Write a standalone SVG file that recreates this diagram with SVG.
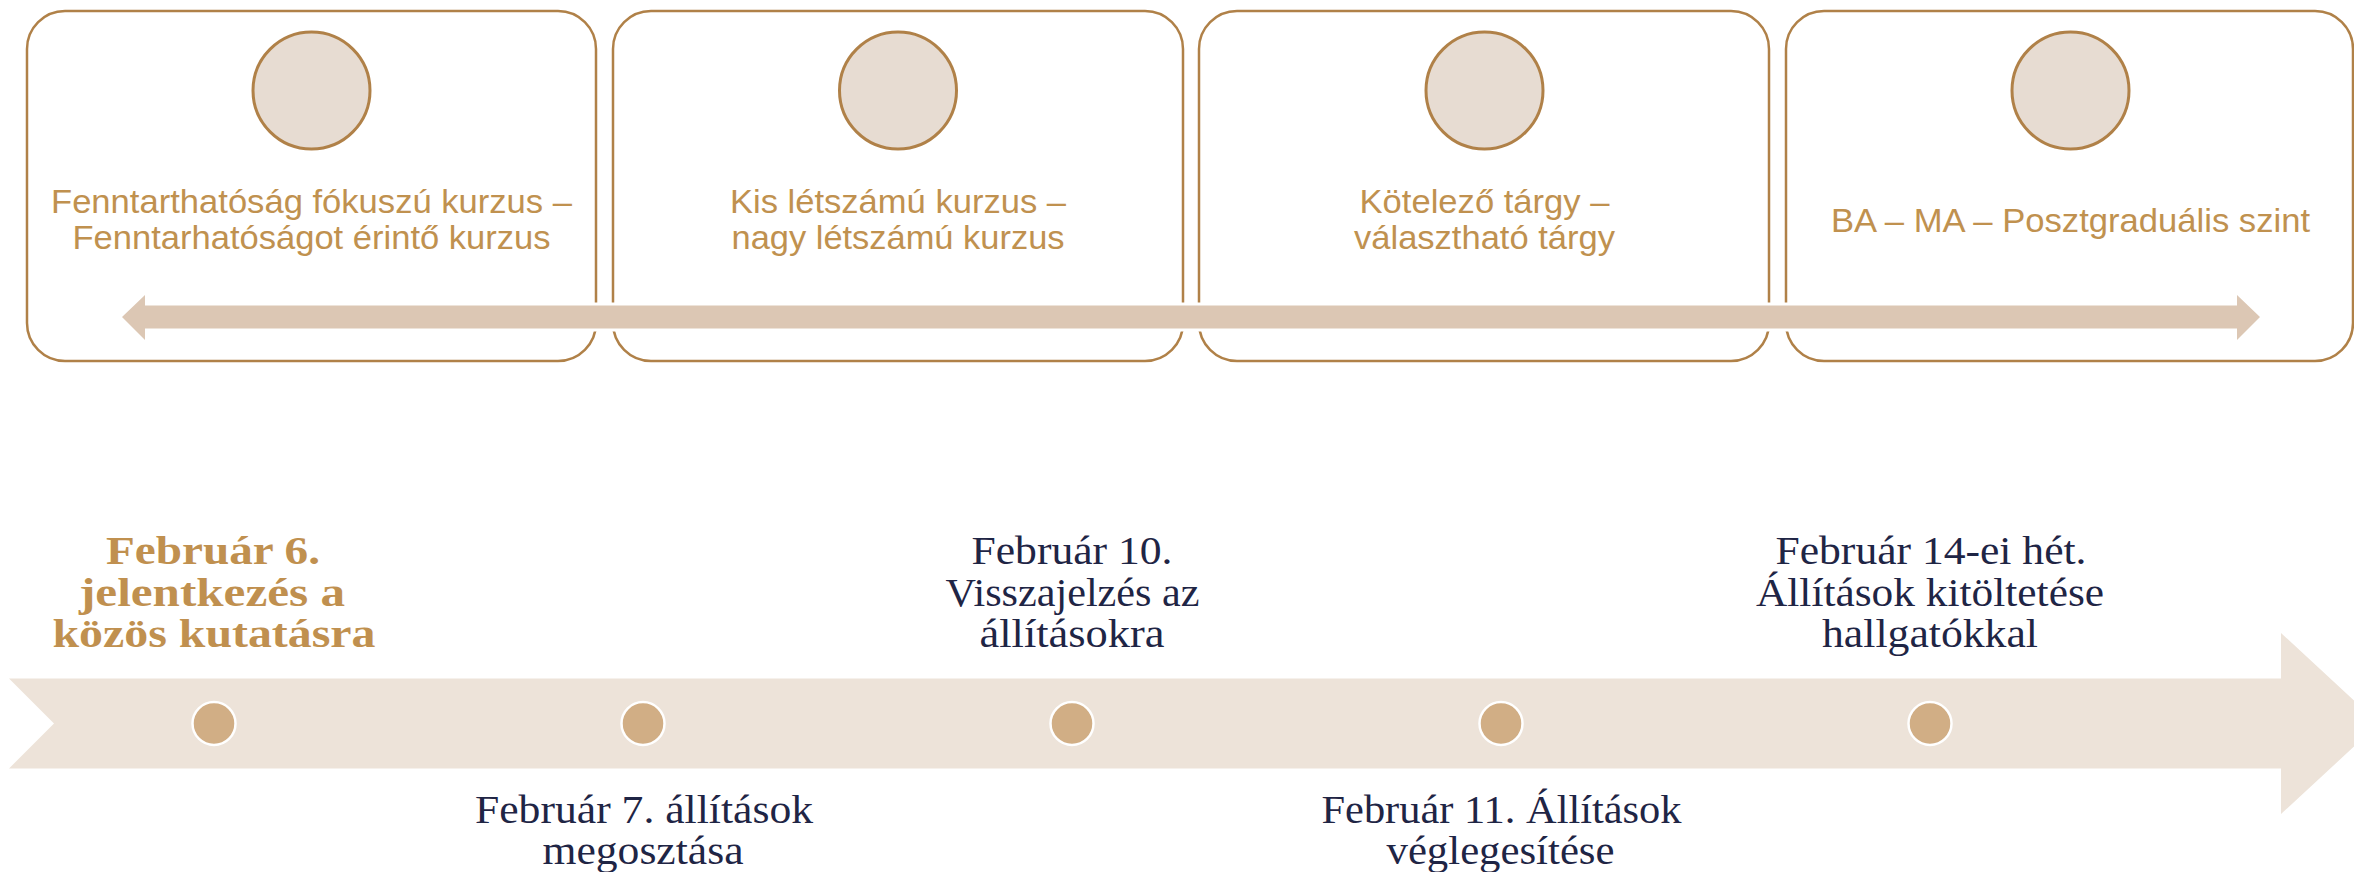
<svg xmlns="http://www.w3.org/2000/svg" width="2354" height="872" viewBox="0 0 2354 872">
<style>
.box{fill:#FFFFFF;stroke:#B08148;stroke-width:2.5}
.ic{fill:#E7DCD2;stroke:#B08148;stroke-width:3}
.bt{font-family:"Liberation Sans",Arial,sans-serif;font-size:33px;fill:#C0914F;text-anchor:middle}
.tl{font-family:"Liberation Serif","Times New Roman",serif;font-size:40px;fill:#1F2545;text-anchor:middle}
.tb{font-family:"Liberation Serif","Times New Roman",serif;font-size:40px;font-weight:bold;fill:#C0904F;text-anchor:middle}
.dot{fill:#D1AE85;stroke:#FFFFFF;stroke-width:2.5}
</style>
<rect width="2354" height="872" fill="#FFFFFF"/>
<g id="node-fokusz">
<rect class="box" x="27" y="11" width="569" height="350" rx="38" ry="38"/>
<circle class="ic" cx="311.5" cy="90.5" r="58.5"/>
<text class="bt" x="311.5" y="213" textLength="521" lengthAdjust="spacingAndGlyphs">Fenntarthatóság fókuszú kurzus –</text>
<text class="bt" x="311.5" y="249" textLength="478" lengthAdjust="spacingAndGlyphs">Fenntarhatóságot érintő kurzus</text>
</g>
<g id="node-letszam">
<rect class="box" x="613" y="11" width="570" height="350" rx="38" ry="38"/>
<circle class="ic" cx="898" cy="90.5" r="58.5"/>
<text class="bt" x="898" y="213" textLength="336" lengthAdjust="spacingAndGlyphs">Kis létszámú kurzus –</text>
<text class="bt" x="898" y="249" textLength="333" lengthAdjust="spacingAndGlyphs">nagy létszámú kurzus</text>
</g>
<g id="node-targy">
<rect class="box" x="1199" y="11" width="570" height="350" rx="38" ry="38"/>
<circle class="ic" cx="1484.5" cy="90.5" r="58.5"/>
<text class="bt" x="1484.5" y="213" textLength="250" lengthAdjust="spacingAndGlyphs">Kötelező tárgy –</text>
<text class="bt" x="1484.5" y="249" textLength="261" lengthAdjust="spacingAndGlyphs">választható tárgy</text>
</g>
<g id="node-szint">
<rect class="box" x="1786" y="11" width="567" height="350" rx="38" ry="38"/>
<circle class="ic" cx="2070.5" cy="90.5" r="58.5"/>
<text class="bt" x="2070.5" y="232" textLength="479" lengthAdjust="spacingAndGlyphs">BA – MA – Posztgraduális szint</text>
</g>
<g id="connectors">
<polygon points="122,317 145,295 145,305.5 2237,305.5 2237,295 2260,317 2237,340 2237,328.5 145,328.5 145,340" fill="#DCC7B4" stroke="#FFFFFF" stroke-width="6" paint-order="stroke"/>
</g>
<g id="timeline">
<polygon points="9,678.5 2281,678.5 2281,633 2379,723.5 2281,814 2281,768.5 9,768.5 54,723.5" fill="#EDE3D9"/>
</g>
<g id="node-feb6">
<circle class="dot" cx="214" cy="723.5" r="21.5"/>
<text class="tb" x="213" y="564" textLength="214" lengthAdjust="spacingAndGlyphs">Február 6.</text>
<text class="tb" x="212" y="606" textLength="266" lengthAdjust="spacingAndGlyphs">jelentkezés a</text>
<text class="tb" x="214" y="647" textLength="323" lengthAdjust="spacingAndGlyphs">közös kutatásra</text>
</g>
<g id="node-feb7">
<circle class="dot" cx="643" cy="723.5" r="21.5"/>
<text class="tl" x="644" y="823" textLength="338" lengthAdjust="spacingAndGlyphs">Február 7. állítások</text>
<text class="tl" x="643" y="864" textLength="201" lengthAdjust="spacingAndGlyphs">megosztása</text>
</g>
<g id="node-feb10">
<circle class="dot" cx="1072" cy="723.5" r="21.5"/>
<text class="tl" x="1072" y="564" textLength="201" lengthAdjust="spacingAndGlyphs">Február 10.</text>
<text class="tl" x="1072.5" y="606" textLength="254" lengthAdjust="spacingAndGlyphs">Visszajelzés az</text>
<text class="tl" x="1072" y="647" textLength="185" lengthAdjust="spacingAndGlyphs">állításokra</text>
</g>
<g id="node-feb11">
<circle class="dot" cx="1501" cy="723.5" r="21.5"/>
<text class="tl" x="1501.5" y="823" textLength="360" lengthAdjust="spacingAndGlyphs">Február 11. Állítások</text>
<text class="tl" x="1500.5" y="864" textLength="228" lengthAdjust="spacingAndGlyphs">véglegesítése</text>
</g>
<g id="node-feb14">
<circle class="dot" cx="1930" cy="723.5" r="21.5"/>
<text class="tl" x="1931" y="564" textLength="311" lengthAdjust="spacingAndGlyphs">Február 14-ei hét.</text>
<text class="tl" x="1930" y="606" textLength="348" lengthAdjust="spacingAndGlyphs">Állítások kitöltetése</text>
<text class="tl" x="1930" y="647" textLength="216" lengthAdjust="spacingAndGlyphs">hallgatókkal</text>
</g>
</svg>
